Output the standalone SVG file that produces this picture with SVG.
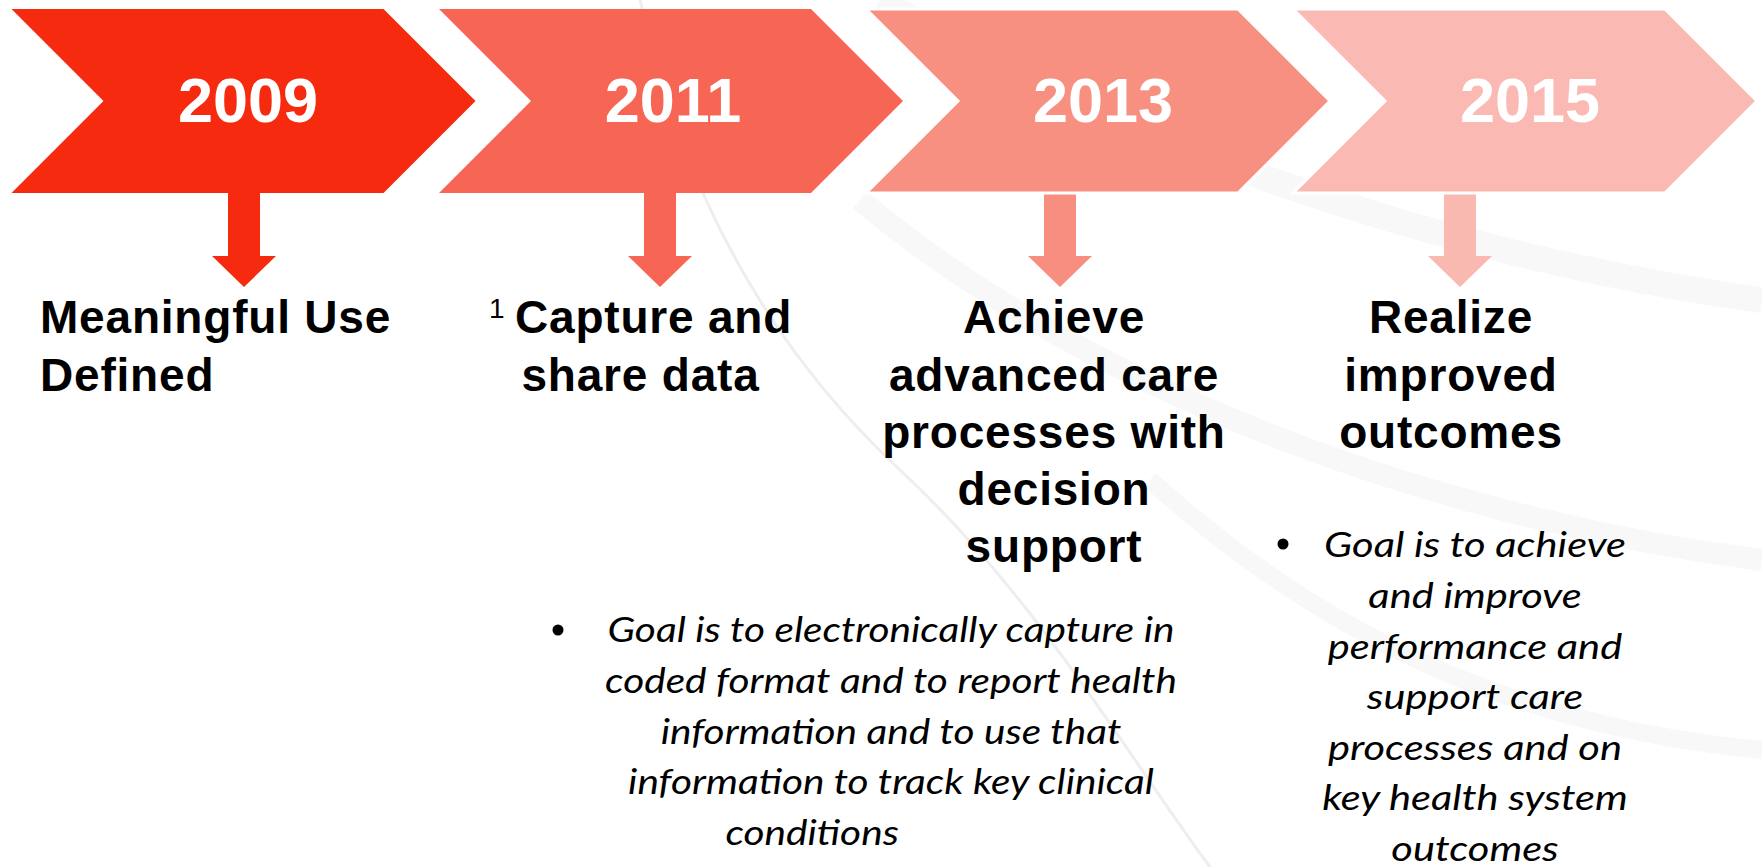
<svg xmlns="http://www.w3.org/2000/svg" width="1762" height="867" viewBox="0 0 1762 867">
<style>
.yr{font-family:"Liberation Sans",Arial,sans-serif;font-weight:bold;font-size:63px;fill:#fff;text-anchor:middle}
.hd{font-family:"Liberation Sans",Arial,sans-serif;font-weight:bold;font-size:46px;fill:#000;letter-spacing:0.8px}
.mid{text-anchor:middle}
.bl{font-family:Lato,"Open Sans",sans-serif;font-style:italic;font-size:35px;fill:#000;text-anchor:middle}
.sw{fill:none;stroke:#f8f8f8}
</style>
<rect width="1762" height="867" fill="#fff"/>
<g id="background">
<path fill="none" stroke="#eeeeee" stroke-width="3" d="M640,0 C680,180 760,340 900,470 S1130,760 1210,867"/>
<path class="sw" stroke-width="26" d="M880,0 C1080,120 1400,250 1762,300"/>
<path class="sw" stroke-width="22" d="M860,200 C1100,400 1450,520 1762,560"/>
<path class="sw" stroke-width="18" d="M1150,480 C1350,660 1550,730 1762,750"/>
</g>
<g id="connectors">
<path id="arrow1" fill="#F52A0E" d="M228,193 h32 v63 h16 l-32,31 l-32,-31 h16 z"/>
<path id="arrow2" fill="#F76654" d="M644,193 h32 v63 h16 l-32,31 l-32,-31 h16 z"/>
<path id="arrow3" fill="#F78E80" d="M1044,193 h32 v63 h16 l-32,31 l-32,-31 h16 z"/>
<path id="arrow4" fill="#F9B8B0" d="M1444,193 h32 v63 h16 l-32,31 l-32,-31 h16 z"/>
</g>
<g id="node-2009">
<polygon fill="#F52A0E" points="11.5,9 383.5,9 475.5,101 383.5,193 11.5,193 103.5,101"/>
<text class="yr" x="248" y="122">2009</text>
</g>
<g id="node-2011">
<polygon fill="#F76654" points="439,9 811,9 903,101 811,193 439,193 531,101"/>
<text class="yr" x="673" y="122">2011</text>
</g>
<g id="node-2013">
<polygon fill="#F79080" stroke="#fff" stroke-width="3" points="866,9 1238,9 1330,101 1238,193 866,193 958,101"/>
<text class="yr" x="1103" y="122">2013</text>
</g>
<g id="node-2015">
<polygon fill="#FABAB3" stroke="#fff" stroke-width="3" points="1293,9 1665,9 1757,101 1665,193 1293,193 1385,101"/>
<text class="yr" x="1530" y="122">2015</text>
</g>
<g id="label-2009">
<text class="hd" x="40" y="333">Meaningful Use</text>
<text class="hd" x="40" y="391">Defined</text>
</g>
<g id="label-2011">
<text font-family="Liberation Sans,Arial,sans-serif" font-size="28" x="489" y="318">1</text>
<text class="hd" x="515" y="333">Capture and</text>
<text class="hd mid" x="640.5" y="391">share data</text>
<circle cx="558" cy="630" r="5.5" fill="#000"/>
<g transform="translate(891 0) scale(1.16 1)">
<text class="bl" x="0" y="642">Goal is to electronically capture in</text>
<text class="bl" x="0" y="693">coded format and to report health</text>
<text class="bl" x="0" y="744">information and to use that</text>
<text class="bl" x="0" y="794">information to track key clinical</text>
<text class="bl" x="-68" y="845">conditions</text>
</g>
</g>
<g id="label-2013">
<text class="hd mid" x="1054" y="333">Achieve</text>
<text class="hd mid" x="1054" y="391">advanced care</text>
<text class="hd mid" x="1054" y="448">processes with</text>
<text class="hd mid" x="1054" y="505">decision</text>
<text class="hd mid" x="1054" y="562">support</text>
</g>
<g id="label-2015">
<text class="hd mid" x="1451" y="333">Realize</text>
<text class="hd mid" x="1451" y="391">improved</text>
<text class="hd mid" x="1451" y="448">outcomes</text>
<circle cx="1283" cy="544" r="5.5" fill="#000"/>
<g transform="translate(1475 0) scale(1.19 1)">
<text class="bl" x="0" y="557">Goal is to achieve</text>
<text class="bl" x="0" y="608">and improve</text>
<text class="bl" x="0" y="659">performance and</text>
<text class="bl" x="0" y="709">support care</text>
<text class="bl" x="0" y="760">processes and on</text>
<text class="bl" x="0" y="810">key health system</text>
<text class="bl" x="0" y="861">outcomes</text>
</g>
</g>
</svg>
